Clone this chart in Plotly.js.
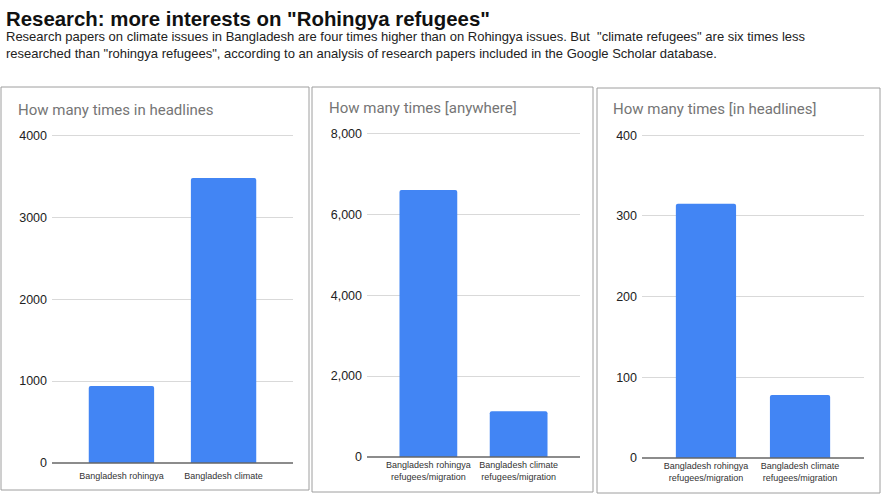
<!DOCTYPE html>
<html><head><meta charset="utf-8">
<script src="https://cdn.plot.ly/plotly-3.0.1.min.js"></script>
<style>html,body{margin:0;padding:0;background:#fff}#c{width:883px;height:500px}</style>
</head><body><div id="c"></div>
<script>
const W = 883, H = 500;
const catsA = ["Bangladesh rohingya", "Bangladesh climate"];
const catsB = ["Bangladesh rohingya<br>refugees/migration", "Bangladesh climate<br>refugees/migration"];
const valuesHeadlines = [940, 3480];
const valuesAnywhere = [6600, 1130];
const valuesInHeadlines = [315, 78];
const ticks1 = [0, 1000, 2000, 3000, 4000];
const tickText1 = ["0", "1000", "2000", "3000", "4000"];
const ticks2 = [0, 2000, 4000, 6000, 8000];
const tickText2 = ["0", "2,000", "4,000", "6,000", "8,000"];
const ticks3 = [0, 100, 200, 300, 400];
const tickText3 = ["0", "100", "200", "300", "400"];
const panelTitles = ["How many times in headlines", "How many times [anywhere]", "How many times [in headlines]"];

const px = x => x / W;
const py = y => 1 - y / H;
const blue = "#4285f4";

const panels = [
  {cats: catsA, vals: valuesHeadlines, ticks: ticks1, tt: tickText1, max: 4000, x0: 52, x1: 293, y0: 463, y1: 134, box: [1, 87, 309, 490], tx: 16, ty: 110, xs: 6},
  {cats: catsB, vals: valuesAnywhere, ticks: ticks2, tt: tickText2, max: 8000, x0: 367, x1: 580, y0: 457, y1: 132, box: [312, 87, 593, 492], tx: 327, ty: 108, xs: 1},
  {cats: catsB, vals: valuesInHeadlines, ticks: ticks3, tt: tickText3, max: 400, x0: 642, x1: 864, y0: 458, y1: 134, box: [597, 88, 880, 493], tx: 611, ty: 109, xs: 1}
];

const data = [];
const layout = {
  width: W, height: H,
  margin: {l: 0, r: 0, t: 0, b: 0},
  paper_bgcolor: "#fff", plot_bgcolor: "rgba(0,0,0,0)",
  showlegend: false,
  font: {family: "Roboto, Arial, sans-serif", color: "#222"},
  shapes: [], annotations: []
};

panels.forEach((p, i) => {
  const n = i === 0 ? "" : String(i + 1);
  data.push({
    type: "bar", x: [0, 1], y: p.vals, xaxis: "x" + n, yaxis: "y" + n,
    marker: {color: blue, cornerradius: 2}, width: 0.64, hoverinfo: "skip"
  });
  layout["xaxis" + n] = {
    domain: [px(p.x0), px(p.x1)], anchor: "y" + n, range: [-0.68, 1.68],
    tickvals: [0, 1], ticktext: p.cats, showgrid: false, zeroline: false,
    showline: false, ticks: "", ticklabelstandoff: p.xs,
    tickfont: {size: 9, color: "#333", family: "Arial, sans-serif"},
    fixedrange: true
  };
  layout["yaxis" + n] = {
    domain: [py(p.y0), py(p.y1)], anchor: "x" + n, range: [0, p.max * 1.004],
    tickvals: p.ticks, ticktext: p.tt, showgrid: true, gridcolor: "#d9d9d9",
    zeroline: false, showline: false, ticks: "",
    tickfont: {size: 12.5, color: "#222", family: "Arial, sans-serif"}, ticklabelstandoff: 4,
    fixedrange: true
  };
  // baseline
  layout.shapes.push({type: "line", xref: "paper", yref: "paper", x0: px(p.x0), x1: px(p.x1), y0: py(p.y0), y1: py(p.y0), line: {color: "#666", width: 1.5}});
  // panel border
  layout.shapes.push({type: "rect", xref: "paper", yref: "paper", x0: px(p.box[0]), x1: px(p.box[2]), y0: py(p.box[3]), y1: py(p.box[1]), line: {color: "#9e9e9e", width: 1}, layer: "below"});
  layout.annotations.push({xref: "paper", yref: "paper", x: px(p.tx), y: py(p.ty), xanchor: "left", yanchor: "middle", showarrow: false, text: panelTitles[i], font: {size: 15, color: "#757575", family: "Roboto, Arial, sans-serif"}});
});

layout.annotations.push({xref: "paper", yref: "paper", x: px(4), y: py(19), xanchor: "left", yanchor: "middle", showarrow: false,
  text: "<b>Research: more interests on \"Rohingya refugees\"</b>", font: {size: 20.4, color: "#111", family: "Liberation Sans, Arial, sans-serif"}});
layout.annotations.push({xref: "paper", yref: "paper", x: px(4), y: py(45.5), xanchor: "left", yanchor: "middle", align: "left", showarrow: false,
  text: "Research papers on climate issues in Bangladesh are four times higher than on Rohingya issues. But  \"climate refugees\" are six times less<br>researched than \"rohingya refugees\", according to an analysis of research papers included in the Google Scholar database.",
  font: {size: 13, color: "#222", family: "Liberation Sans, Arial, sans-serif"}});

Plotly.newPlot("c", data, layout, {displayModeBar: false, staticPlot: true});
</script></body></html>
